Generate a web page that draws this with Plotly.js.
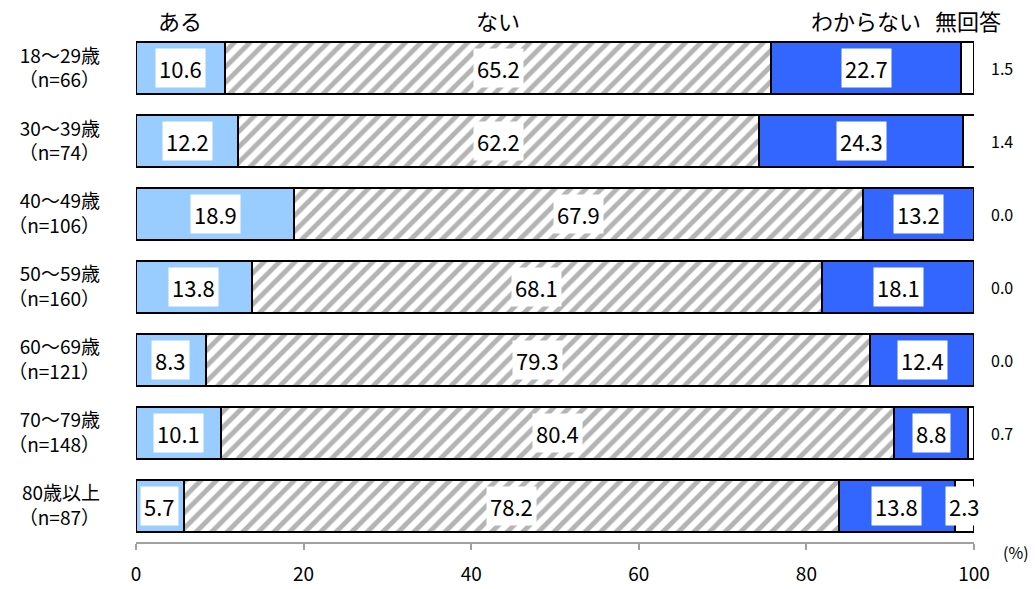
<!DOCTYPE html>
<html><head><meta charset="utf-8">
<script src="https://cdn.plot.ly/plotly-3.0.1.min.js"></script>
<style>html,body{margin:0;padding:0;background:#fff}#c{width:1035px;height:589px}</style>
</head><body><div id="c"></div>
<script>
const categories = ["18～29歳<br>（n=66）","30～39歳<br>（n=74）","40～49歳<br>（n=106）","50～59歳<br>（n=160）","60～69歳<br>（n=121）","70～79歳<br>（n=148）","80歳以上<br>（n=87）"];
const seriesNames = ["ある","ない","わからない","無回答"];
const aru = [10.6,12.2,18.9,13.8,8.3,10.1,5.7];
const nai = [65.2,62.2,67.9,68.1,79.3,80.4,78.2];
const wakaranai = [22.7,24.3,13.2,18.1,12.4,8.8,13.8];
const mukaitou = [1.5,1.4,0.0,0.0,0.0,0.7,2.3];
const xTicks = [0,20,40,60,80,100];

const FONT = "'Noto Sans CJK JP', 'Noto Sans', sans-serif";
const series = [aru, nai, wakaranai, mukaitou];
const colors = ["#99CCFF","#FFFFFF","#3366FF","#FFFFFF"];

const traces = series.map((vals,i)=>{
  const t = {
    type:'bar', orientation:'h', name:seriesNames[i],
    y:categories, x:vals,
    marker:{color:colors[i], line:{color:'#000', width:2}},
    hoverinfo:'skip'
  };
  if(i===1){ t.marker.pattern = {shape:'/', fgcolor:'#b4b4b4', bgcolor:'#ffffff', size:11, solidity:0.45}; }
  return t;
});

const annotations = [];
categories.forEach((c,r)=>{
  let cum = 0;
  series.forEach((vals,i)=>{
    const v = vals[r];
    const mid = cum + v/2;
    cum += v;
    const txt = v.toFixed(1);
    if(i<3 || v>2){
      annotations.push({x:mid, y:c, xref:'x', yref:'y', text:txt, showarrow:false,
        bgcolor:'#fff', borderpad:3, font:{family:FONT, size:22, color:'#000'}});
    } else {
      annotations.push({x:1.0334, y:c, xref:'paper', yref:'y', xanchor:'center', text:txt, showarrow:false,
        font:{family:FONT, size:16, color:'#000'}});
    }
  });
});
// series header labels above the first row
let cum0 = 0;
series.forEach((vals,i)=>{
  const mid = cum0 + vals[0]/2; cum0 += vals[0];
  annotations.push({x:mid, y:1, xref:'x', yref:'paper', xanchor:'center', yanchor:'bottom', yshift:-6, text:seriesNames[i], showarrow:false,
    font:{family:FONT, size:22, color:'#000'}});
});
annotations.push({x:1.05, y:0, xref:'paper', yref:'paper', xanchor:'center', yanchor:'middle', yshift:-10, text:'(%)', showarrow:false,
  font:{family:FONT, size:16, color:'#000'}});

const layout = {
  width:1035, height:589,
  margin:{l:136, r:61, t:31.5, b:46.5},
  barmode:'stack', bargap:0.288,
  showlegend:false,
  paper_bgcolor:'#fff', plot_bgcolor:'#fff',
  font:{family:FONT, size:19, color:'#000'},
  xaxis:{range:[0,100], tickvals:xTicks, ticktext:xTicks.map(String), showgrid:false, zeroline:false,
    showline:true, linecolor:'#a0a0a0', linewidth:2, ticks:'outside', ticklen:6, tickwidth:2, tickcolor:'#a0a0a0',
    tickfont:{family:FONT, size:19, color:'#000'}, ticklabelstandoff:8, fixedrange:true},
  yaxis:{type:'category', range:[6.5,-0.5], showgrid:false, zeroline:false, showline:false, ticks:'',
    tickfont:{family:FONT, size:19, color:'#000'}, ticklabelstandoff:35, fixedrange:true},
  annotations:annotations
};
Plotly.newPlot('c', traces, layout, {staticPlot:true, displayModeBar:false});
</script></body></html>
